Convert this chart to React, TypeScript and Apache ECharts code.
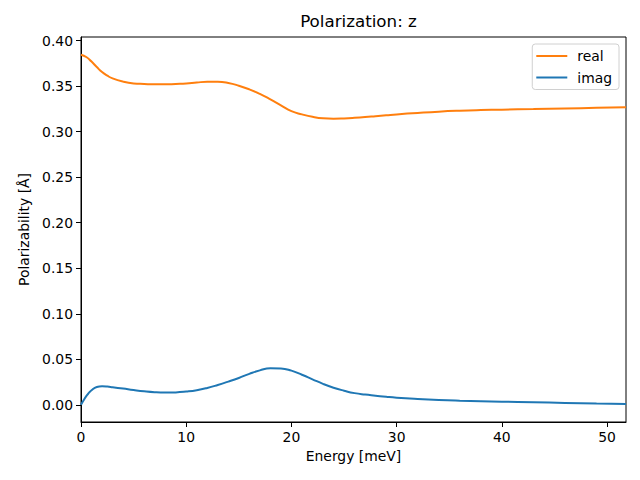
import React, { useEffect, useRef } from "react";
import * as echarts from "echarts";

const realX = [0, 0.5, 1, 1.5, 2, 2.5, 3, 4, 5, 6, 7, 8, 9, 10, 11, 12, 13, 14, 15, 16, 17, 18, 19, 20, 21, 22, 23, 24, 25, 26, 27, 28, 29, 30, 32, 34, 36, 38, 40, 43, 46, 49, 51.8];
const realY = [0.3845, 0.382, 0.377, 0.371, 0.3655, 0.3615, 0.3585, 0.355, 0.353, 0.3524, 0.352, 0.352, 0.3525, 0.353, 0.354, 0.3548, 0.3548, 0.3535, 0.3505, 0.3465, 0.3415, 0.3355, 0.329, 0.3225, 0.319, 0.3163, 0.3147, 0.3143, 0.3146, 0.3152, 0.316, 0.317, 0.318, 0.319, 0.3206, 0.322, 0.323, 0.3237, 0.3242, 0.3248, 0.3255, 0.3262, 0.3268];

const imagX = [0, 0.25, 0.5, 0.75, 1, 1.5, 2, 2.5, 3, 4, 5, 6, 7, 8, 9, 10, 11, 12, 13, 14, 15, 16, 17, 18, 19, 20, 21, 22, 23, 24, 25, 26, 27, 28, 29, 30, 32, 34, 36, 38, 40, 43, 46, 49, 51.8];
const imagY = [0.0, 0.005, 0.0095, 0.013, 0.016, 0.0195, 0.0203, 0.02, 0.0193, 0.0178, 0.0162, 0.0148, 0.0138, 0.0134, 0.0136, 0.0145, 0.016, 0.0185, 0.0218, 0.0255, 0.0295, 0.034, 0.0378, 0.0402, 0.04, 0.0375, 0.033, 0.028, 0.023, 0.0188, 0.0155, 0.0128, 0.0112, 0.01, 0.0088, 0.0078, 0.0064, 0.0053, 0.0045, 0.0039, 0.0034, 0.0028, 0.002, 0.0014, 0.001];

const xTicks = [0, 10, 20, 30, 40, 50];
const yTicks = [0, 0.05, 0.1, 0.15, 0.2, 0.25, 0.3, 0.35, 0.4];

const FONT = "DejaVu Sans";

export default function App() {
  const ref = useRef<HTMLDivElement>(null);
  useEffect(() => {
    if (!ref.current) return;
    const chart = echarts.init(ref.current, null, { renderer: "svg" });
    const zip = (xs: number[], ys: number[]) => xs.map((x, i) => [x, ys[i]]);
    chart.setOption({
      animation: false,
      backgroundColor: "#ffffff",
      textStyle: { fontFamily: FONT },
      title: {
        text: "Polarization: z",
        left: 353.5,
        top: 7,
        textAlign: "center",
        textStyle: { fontFamily: FONT, fontSize: 16.7, fontWeight: "normal", color: "#000" },
      },
      grid: {
        left: 81,
        right: 14,
        top: 37,
        bottom: 58,
        show: true,
        borderColor: "#000",
        borderWidth: 1,
        backgroundColor: "transparent",
      },
      legend: {
        orient: "vertical",
        right: 21,
        top: 44,
        backgroundColor: "#fff",
        borderColor: "#d0d0d0",
        borderWidth: 1,
        borderRadius: 3,
        padding: [5, 7, 5, 4],
        itemGap: 7.5,
        itemWidth: 31,
        itemHeight: 2,
        icon: "rect",
        textStyle: { fontFamily: FONT, fontSize: 13.9, color: "#000", padding: [0, 0, 0, 5] },
        data: ["real", "imag"],
      },
      xAxis: {
        type: "value",
        min: 0,
        max: 51.8,
        name: "Energy [meV]",
        nameLocation: "middle",
        nameGap: 27,
        nameTextStyle: { fontFamily: FONT, fontSize: 13.9, color: "#000" },
        axisLine: { show: true, onZero: false, lineStyle: { color: "#000", width: 1 } },
        axisTick: { show: true, length: 5, lineStyle: { color: "#000" }, customValues: xTicks },
        axisLabel: { fontFamily: FONT, fontSize: 13.9, color: "#000", margin: 8, customValues: xTicks },
        splitLine: { show: false },
      },
      yAxis: {
        type: "value",
        min: -0.0189,
        max: 0.404,
        name: "Polarizability [Å]",
        nameLocation: "middle",
        nameGap: 50,
        nameTextStyle: { fontFamily: FONT, fontSize: 13.9, color: "#000" },
        axisLine: { show: true, onZero: false, lineStyle: { color: "#000", width: 1 } },
        axisTick: { show: true, length: 5, lineStyle: { color: "#000" }, customValues: yTicks },
        axisLabel: {
          fontFamily: FONT,
          fontSize: 13.9,
          color: "#000",
          margin: 8,
          customValues: yTicks,
          formatter: (v: number) => v.toFixed(2),
        },
        splitLine: { show: false },
      },
      series: [
        {
          name: "real",
          type: "line",
          data: zip(realX, realY),
          smooth: 0.5,
          symbol: "none",
          lineStyle: { color: "#ff7f0e", width: 2 },
          itemStyle: { color: "#ff7f0e" },
        },
        {
          name: "imag",
          type: "line",
          data: zip(imagX, imagY),
          smooth: 0.5,
          symbol: "none",
          lineStyle: { color: "#1f77b4", width: 2 },
          itemStyle: { color: "#1f77b4" },
        },
      ],
    });
    return () => chart.dispose();
  }, []);
  return <div ref={ref} style={{ width: 640, height: 480, position: "absolute", left: 0, top: 0 }} />;
}
